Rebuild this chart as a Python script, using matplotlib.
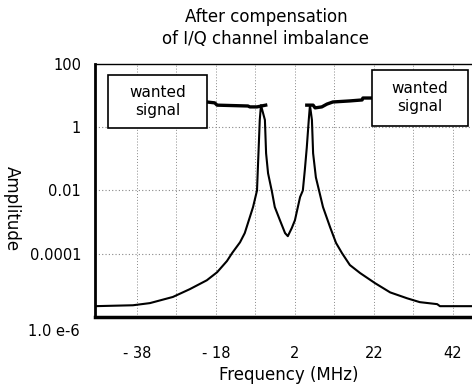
import matplotlib
matplotlib.use("Agg")
import matplotlib.pyplot as plt
from matplotlib.patches import Rectangle

# spectrum after I/Q compensation
freq = [-48.6, -39.0, -34.7, -28.9, -24.6, -20.3, -17.7, -15.2, -13.9, -11.9,
        -10.7, -8.6, -7.6, -7.4, -7.1, -6.9, -6.6, -5.6, -5.3, -4.8,
        -3.8, -3.1, -1.8, -0.5, 0.2, 1.2, 2.0, 3.3, 4.0, 4.5,
        5.0, 5.5, 5.8, 6.3, 6.6, 7.3, 8.1, 9.1, 10.9, 12.4,
        13.9, 15.9, 18.5, 22.3, 26.1, 30.4, 33.6, 38.0, 38.7, 52.0]
amp = [2.2e-6, 2.35e-6, 2.75e-6, 4.3e-6, 7.6e-6, 1.45e-5, 2.6e-5, 5.9e-5, 1.05e-4, 2.3e-4,
       4.5e-4, 3.0e-3, 1.0e-2, 4.4e-2, 0.39, 1.7, 5.0, 1.7, 0.15, 0.035,
       8.9e-3, 3.0e-3, 1.15e-3, 4.5e-4, 3.6e-4, 6.5e-4, 1.15e-3, 6.2e-3, 1.0e-2, 4.4e-2,
       0.23, 1.7, 5.0, 1.7, 0.15, 0.026, 1.0e-2, 3.0e-3, 6.9e-4, 2.2e-4,
       1.05e-4, 4.4e-5, 2.45e-5, 1.17e-5, 6.0e-6, 3.9e-6, 2.95e-6, 2.55e-6, 2.2e-6, 2.2e-6]

# wanted signal levels
sig_left_f = [-20.3, -18.3, -17.7, -9.9, -9.4, -7.6, -5.4]
sig_left_a = [6.3, 5.9, 5.0, 4.7, 4.4, 4.4, 5.0]
sig_right_f = [5.0, 6.6, 7.1, 8.8, 10.1, 11.6, 15.9, 19.0, 19.2, 21.5]
sig_right_a = [5.0, 5.0, 4.1, 4.4, 5.4, 6.3, 6.8, 7.3, 8.4, 8.4]

xticks = [-38, -18, 2, 22, 42]
xtick_labels = ["- 38", "- 18", "2", "22", "42"]
xgrid = [-38, -28, -18, -8, 2, 12, 22, 32, 42]
yticks = [100, 1, 0.01, 0.0001]
ytick_labels = ["100", "1", "0.01", "0.0001"]

fig = plt.figure(figsize=(4.72, 3.87), dpi=100)
ax = fig.add_axes([95 / 472, 70 / 387, 397.5 / 472, 253 / 387])

ax.set_yscale("log")
ax.set_xlim(-48.6, 52)
ax.set_ylim(1e-6, 100)

for g in xgrid:
    ax.axvline(g, color="#888888", lw=0.7, ls=(0, (1, 2)), zorder=0)
for g in [1, 0.01, 0.0001]:
    ax.axhline(g, color="#888888", lw=0.8, ls=(0, (1, 2)), zorder=0)

ax.plot(freq, amp, color="black", lw=1.5, zorder=2)
ax.plot(sig_left_f, sig_left_a, color="black", lw=2.4, zorder=2)
ax.plot(sig_right_f, sig_right_a, color="black", lw=2.4, zorder=2)

# "wanted signal" boxes
for x0, x1, y0, y1 in [(-45.3, -20.3, 0.93, 45), (21.5, 45.8, 1.1, 65)]:
    ax.add_patch(Rectangle((x0, y0), x1 - x0, y1 - y0, facecolor="white",
                           edgecolor="black", lw=1.2, zorder=3))
    ax.text((x0 + x1) / 2, (y0 * y1) ** 0.5, "wanted\nsignal", ha="center",
            va="center", fontsize=11, linespacing=1.25, zorder=4)

ax.set_xticks(xticks)
ax.set_xticklabels(xtick_labels, fontsize=10.5)
ax.set_yticks(yticks)
ax.set_yticklabels(ytick_labels, fontsize=10.5)
ax.minorticks_off()
ax.tick_params(axis="x", length=0, pad=21)
ax.tick_params(axis="y", length=0, pad=10)

ax.spines["left"].set_linewidth(2)
ax.spines["bottom"].set_linewidth(2.5)
ax.spines["top"].set_linewidth(1)
ax.spines["right"].set_visible(False)

fig.text(80 / 472, 1 - 332 / 387, "1.0 e-6", ha="right", va="center", fontsize=10.5)
fig.text(266 / 472, 1 - 28 / 387, "After compensation\nof I/Q channel imbalance",
         ha="center", va="center", fontsize=12, linespacing=1.3)
fig.text(289 / 472, 1 - 375 / 387, "Frequency (MHz)", ha="center", va="center", fontsize=12)
fig.text(12 / 472, 1 - 209 / 387, "Amplitude", ha="center", va="center",
         rotation=270, fontsize=12)

plt.savefig("out.png", dpi=100)
